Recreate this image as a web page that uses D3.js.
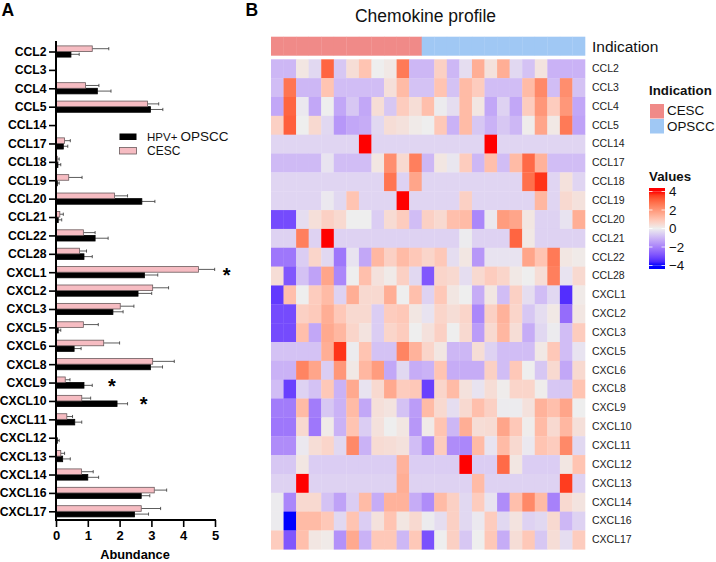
<!DOCTYPE html>
<html><head><meta charset="utf-8">
<script src="https://cdn.jsdelivr.net/npm/d3@7/dist/d3.min.js"></script>
<style>html,body{margin:0;padding:0;background:#fff}svg{display:block}text{font-family:"Liberation Sans",Arial,sans-serif}</style>
</head><body><svg id="c" width="716" height="562"></svg>
<script>
const genes=["CCL2","CCL3","CCL4","CCL5","CCL14","CCL17","CCL18","CCL19","CCL20","CCL21","CCL22","CCL28","CXCL1","CXCL2","CXCL3","CXCL5","CXCL6","CXCL8","CXCL9","CXCL10","CXCL11","CXCL12","CXCL13","CXCL14","CXCL16","CXCL17"];
const cescMean=[1.14,0,0.93,2.88,0,0.27,0.04,0.4,1.84,0.12,0.86,0.74,4.48,3.04,2.02,0.86,1.5,3.04,0.29,0.81,0.34,0,0.15,0.8,3.09,2.68];
const cescErr=[1.66,0,1.35,3.23,0,0.45,0.1,0.82,2.25,0.23,1.23,0.96,4.99,3.54,2.45,1.33,2.0,3.72,0.44,1.09,0.52,0,0.27,1.17,3.48,3.29];
const opsccMean=[0.47,0,1.3,2.97,0,0.23,0.06,0.04,2.7,0.07,1.23,0.88,2.78,2.58,1.79,0.07,0.57,2.97,0.88,1.92,0.59,0.04,0.21,1.0,2.68,2.47];
const opsccErr=[0.73,0,1.73,3.36,0,0.37,0.15,0.1,3.11,0.18,1.64,1.14,3.2,3.01,2.11,0.15,0.79,3.35,1.14,2.25,0.81,0.1,0.45,1.34,2.95,2.91];
const stars=[{gene:"CXCL1",v:5.37},{gene:"CXCL9",v:1.76},{gene:"CXCL10",v:2.76}];
const xTicks=[0,1,2,3,4,5];
const indication=["CESC","CESC","CESC","CESC","CESC","CESC","CESC","CESC","CESC","CESC","CESC","CESC","OPSCC","OPSCC","OPSCC","OPSCC","OPSCC","OPSCC","OPSCC","OPSCC","OPSCC","OPSCC","OPSCC","OPSCC","OPSCC"];
const legendTicks=[4,2,0,-2,-4];
const a=-0.45;
const heat=[
[-1,-1,0.2,-0.4,3,-0.7,0.4,1,0,0.15,2.6,-1,-1,0.7,-1,-0.3,1.5,0.3,1.5,-0.4,-0.8,0.25,-1.1,-1.1,-1.1],
[-0.9,2.7,-1,-1,1,-0.9,-0.9,-0.9,-0.9,0.35,1.2,-0.8,-0.8,1,-0.8,1.2,0.8,-0.9,-0.9,-0.9,1.2,2.3,-0.9,2.2,-0.8],
[-1.3,3,-0.1,-1.3,0,-1.3,-0.7,-1.3,0.4,-0.7,0.8,0.4,1.1,-0.05,-0.3,1.2,0.2,-1.3,-0.5,-1.3,0.8,2,0.8,2,-1.3],
[0.7,3.1,0,0.5,-0.4,-1.6,-1.3,-1.2,-0.4,0.4,0.3,0.1,0,0.9,-1.1,1.2,-0.7,-1.1,-0.7,-1,0.05,1.7,0.15,2.6,-1.4],
[a,a,a,a,a,a,a,4,a,a,a,a,a,a,a,a,a,4,a,a,a,a,a,a,a],
[-0.95,-0.95,-0.95,-0.95,-0.2,-0.9,-0.9,-0.9,0.2,2.2,0.5,2.5,-1,0.2,-0.15,0.8,-1,1.1,-0.9,1.2,2.9,1.4,-0.9,-0.9,-0.9],
[a,a,a,a,a,a,a,a,a,2.7,-0.5,1.7,a,a,a,a,a,a,a,a,2.8,3.7,a,0.3,a],
[a,a,a,a,-0.1,-0.4,1,a,a,a,4,a,a,a,a,0.7,a,a,a,a,a,1.3,a,0.5,0.3],
[-3,-3,-0.3,0.35,0.7,0.5,0,0,-0.6,0.45,0.8,-0.9,0.7,0.5,1.1,1.2,-1.9,-0.1,1.9,1.7,0.2,-0.5,-0.5,-0.2,1.5],
[-0.5,-0.5,2.5,-0.5,4,-0.5,-0.5,-0.5,-0.5,-0.5,-0.5,-0.5,-0.5,-0.5,-0.5,-0.05,-0.5,-0.5,-0.5,3,0.15,-0.5,-0.5,-0.5,-0.5],
[-2.2,-2.2,-0.6,0.6,-0.4,-2.2,-0.2,-1.3,1.3,0.7,1.2,0.9,0.6,0.9,-0.3,0.2,-1.6,-0.2,-0.2,-0.2,1.7,1,2.6,0.2,0.1],
[0.4,-2.8,-0.8,-1.4,1.7,-1.9,0,1.1,0.3,0.1,0.7,-0.4,-2.8,0.6,0.5,-0.3,0.5,0.8,0.6,0.15,0,0.4,2.5,-0.2,0.5],
[-3.3,1.1,0,0.8,1.2,-0.5,1.5,0.5,0.5,1.5,0,1.1,-0.5,0.9,0.2,0,-1.2,0.2,-0.9,0.7,-0.3,-0.9,-0.4,-3.5,0.1],
[-3,-3,0.7,0.85,1.5,0.9,0.5,0.5,-0.6,0.8,0.9,0.2,-0.2,0.6,0.4,0.6,-1.9,0.7,1.4,0.6,-0.7,-0.3,0.15,-2.4,0.2],
[-3,-3,1.1,-1.3,1.6,1.3,0.6,0.25,-0.6,0.6,0.8,0,0.3,0.7,0,0.5,-1.5,0.5,1.3,0.4,-1.2,-0.4,-0.05,-0.9,0.8],
[-0.8,-0.8,-0.8,-0.8,1.5,3.7,-0.05,1,-0.8,-0.8,2.4,1.4,0.6,0.2,-1,-1,0.4,-0.5,-0.9,-0.9,-0.9,0.15,0.9,-0.9,-0.2],
[-1.1,-1.1,2.4,1.7,-0.6,2,0.15,1.3,1.9,-1.3,-0.4,-1.2,-1.1,1,-1.2,-1.2,-1.2,0.7,-0.9,0.9,0,-0.7,0.5,-1.3,0.5],
[-0.9,-3.2,-0.5,-0.8,0.9,-1.1,1.6,-0.2,0.5,1.6,0.8,0.9,-3.2,0.6,1.2,0.3,-0.2,0.4,0.05,0.6,0.6,0.05,-0.7,-0.7,1],
[-2.1,-2.1,1.2,-2.1,-0.7,-1.1,1.2,-1.3,0.35,0.25,-0.8,-1.5,1.2,0.5,-0.3,0.5,1.1,0.7,-0.05,-0.05,0.3,1.4,1.1,1.7,0],
[-2.2,-2.2,0.5,-2.2,0.1,-1.1,1,-0.6,0.3,0,0.2,-1.6,0.1,1,-1,1.5,0.4,0.45,1.7,0.9,0.05,1.2,0.5,1.3,0.35],
[-1.8,-1.8,-0.1,0.4,0.6,-0.4,2.3,-1.1,0.45,0.4,0.3,-0.9,-1.8,0.8,-1.8,-1.9,1.2,-0.2,1.2,0.5,-0.1,1,0.8,2.3,-0.4],
[-0.7,-0.7,0.2,-0.6,-0.6,-0.6,-0.6,-0.6,-0.6,-0.6,1.4,-0.6,-0.6,-0.6,-0.6,4,-0.6,-0.6,2.9,0.2,-0.6,-0.6,-0.6,0.2,1],
[-0.5,-0.5,4,-0.5,-0.5,-0.5,-0.5,-0.5,-0.5,-0.5,1.5,-0.5,-0.5,-0.5,-0.5,-0.5,1.2,-0.5,-0.5,-0.5,-0.5,-0.5,-0.5,3.6,-0.5],
[-0.05,-1.9,0.5,0.5,-0.8,-1.4,-0.6,1.2,-1.2,1.4,1.4,-1.2,-1.8,1.2,0.7,-0.4,0.8,-0.2,-1.8,1.1,2.3,1.2,-2,0.5,0.25],
[-0.05,-4,1.2,1.2,0.9,-0.4,1,-0.6,0.3,1,0.2,0.5,-0.05,-0.3,0.7,-0.4,-0.1,0.8,-0.4,0.25,-0.5,-0.4,0.5,-1,-0.5],
[0.8,-2.8,1.1,0.2,0.1,-1.7,1.6,-1.1,0.9,0.9,-1,0.9,-2.9,0,0.7,-0.7,0,0.9,-1.2,0.4,0.9,-0.7,0.4,-0.3,0.8]
];
const svg=d3.select("#c");
const FONT_BOLD="700";

// Panel letters and titles
svg.append("text").attr("x",1.5).attr("y",15.5).attr("font-size",17.5).attr("font-weight",FONT_BOLD).text("A");
svg.append("text").attr("x",245.5).attr("y",15.5).attr("font-size",17.5).attr("font-weight",FONT_BOLD).text("B");
svg.append("text").attr("x",425.5).attr("y",22).attr("text-anchor","middle").attr("font-size",17.5).attr("fill","#111").text("Chemokine profile");

// Panel A
const x=d3.scaleLinear().domain([0,5]).range([56,215]);
const y=d3.scalePoint().domain(genes).range([51.5,511.3]);
const barH=5.6;
const gA=svg.append("g");
const drawBars=(mean,err,fill,stroke,off)=>{
  const g=gA.append("g");
  g.selectAll("line.e").data(genes).join("line")
    .attr("x1",(d,i)=>x(mean[i])).attr("x2",(d,i)=>x(err[i]))
    .attr("y1",d=>y(d)+off+barH/2).attr("y2",d=>y(d)+off+barH/2)
    .attr("stroke","#333").attr("stroke-width",0.8);
  g.selectAll("line.c").data(genes).join("line")
    .attr("x1",(d,i)=>x(err[i])).attr("x2",(d,i)=>x(err[i]))
    .attr("y1",d=>y(d)+off+barH/2-1.6).attr("y2",d=>y(d)+off+barH/2+1.6)
    .attr("stroke","#333").attr("stroke-width",0.8);
  g.selectAll("rect").data(genes).join("rect")
    .attr("x",x(0)).attr("width",(d,i)=>x(mean[i])-x(0))
    .attr("y",d=>y(d)+off).attr("height",barH)
    .attr("fill",fill).attr("stroke",stroke).attr("stroke-width",0.8);
};
drawBars(opsccMean,opsccErr,"#000","#000",0);
drawBars(cescMean,cescErr,"#F6BCC2","#6a5a5c",-barH);

const yAxis=d3.axisLeft(y).tickSize(7).tickPadding(2.5);
const gy=gA.append("g").attr("transform","translate(56,0)").call(yAxis);
gy.select(".domain").attr("d","M0,41V521").attr("stroke","#000").attr("stroke-width",2);
gy.selectAll(".tick line").attr("stroke","#000").attr("stroke-width",1.6);
gy.selectAll("text").attr("font-size",12.2).attr("font-weight",FONT_BOLD).attr("fill","#000").attr("font-family",'"Liberation Sans",Arial,sans-serif');
const xAxis=d3.axisBottom(x).tickValues(xTicks).tickFormat(d3.format("d")).tickSize(7).tickPadding(3.5);
const gx=gA.append("g").attr("transform","translate(0,520)").call(xAxis);
gx.select(".domain").attr("d","M55,0H216").attr("stroke","#000").attr("stroke-width",2);
gx.selectAll(".tick line").attr("stroke","#000").attr("stroke-width",1.6);
gx.selectAll("text").attr("font-size",13).attr("font-weight",FONT_BOLD).attr("fill","#000").attr("font-family",'"Liberation Sans",Arial,sans-serif');
svg.append("text").attr("x",135).attr("y",558.5).attr("text-anchor","middle").attr("font-size",12.8).attr("font-weight",FONT_BOLD).text("Abundance");
gA.selectAll("text.star").data(stars).join("text").attr("class","star")
  .attr("x",d=>x(d.v)).attr("y",d=>y(d.gene)+10).attr("text-anchor","middle")
  .attr("font-size",20).attr("font-weight",FONT_BOLD).text("*");

// Panel A legend
gA.append("rect").attr("x",119.5).attr("y",133.5).attr("width",17).attr("height",6.5).attr("fill","#000");
gA.append("rect").attr("x",119.5).attr("y",147.5).attr("width",17).attr("height",6.5).attr("fill","#F6BCC2").attr("stroke","#6a5a5c").attr("stroke-width",0.8);
const lt=gA.append("text").attr("x",147).attr("y",141).attr("font-size",11.5).attr("fill","#111");
lt.append("tspan").text("HPV+ ");
lt.append("tspan").attr("font-size",13.5).text("OPSCC");
gA.append("text").attr("x",147).attr("y",155).attr("font-size",12).attr("fill","#111").text("CESC");

// Panel B
const colIdx=d3.range(indication.length);
const hx=d3.scaleBand().domain(colIdx).range([271,585]);
const hy=d3.scaleBand().domain(genes).range([59.3,549.3]);
const color=d3.scaleLinear().domain([-4,0,4]).range(["#0000ff","#eeeeee","#ff0000"]).interpolate(d3.interpolateLab);
const indColor=d3.scaleOrdinal().domain(["CESC","OPSCC"]).range(["#F08A88","#A0C8F4"]);
svg.append("g").selectAll("rect").data(indication).join("rect")
  .attr("x",(d,i)=>hx(i)).attr("width",hx.bandwidth()+0.3).attr("y",36.7).attr("height",19)
  .attr("fill",d=>indColor(d));
svg.append("text").attr("x",592).attr("y",51.5).attr("font-size",15.5).attr("fill","#111").text("Indication");
const rows=svg.append("g").selectAll("g").data(heat).join("g").attr("transform",(d,i)=>`translate(0,${hy(genes[i])})`);
rows.selectAll("rect").data(d=>d).join("rect")
  .attr("x",(d,i)=>hx(i)).attr("width",hx.bandwidth()+0.3).attr("height",hy.bandwidth()+0.3)
  .attr("fill",d=>color(d));
const rl=d3.axisRight(hy).tickSize(0).tickPadding(7);
const grl=svg.append("g").attr("transform","translate(585,0)").call(rl);
grl.select(".domain").remove();
grl.selectAll("text").attr("font-size",10.5).attr("fill","#222").attr("font-family",'"Liberation Sans",Arial,sans-serif');

// Heatmap legends
svg.append("text").attr("x",649).attr("y",95).attr("font-size",13.3).attr("font-weight",FONT_BOLD).attr("fill","#111").text("Indication");
const lg=svg.append("g").selectAll("g").data(indColor.domain()).join("g");
lg.append("rect").attr("x",650).attr("y",(d,i)=>104+i*15).attr("width",14).attr("height",14.5).attr("fill",d=>indColor(d));
lg.append("text").attr("x",667).attr("y",(d,i)=>115+i*15.5).attr("font-size",13.4).attr("fill","#111").text(d=>d);
svg.append("text").attr("x",649).attr("y",181).attr("font-size",13.3).attr("font-weight",FONT_BOLD).attr("fill","#111").text("Values");
const ls=d3.scaleLinear().domain([4,-4]).range([191.5,265.5]);
const defs=svg.append("defs");
const gr=defs.append("linearGradient").attr("id","vg").attr("x1",0).attr("x2",0).attr("y1",0).attr("y2",1);
d3.range(0,1.0001,0.05).forEach(t=>gr.append("stop").attr("offset",t).attr("stop-color",color(4-8*t)));
svg.append("rect").attr("x",649).attr("y",188).attr("width",16).attr("height",3.5).attr("fill",color(4));
svg.append("rect").attr("x",649).attr("y",265.5).attr("width",16).attr("height",3.5).attr("fill",color(-4));
svg.append("rect").attr("x",649).attr("y",ls(4)).attr("width",16).attr("height",ls(-4)-ls(4)).attr("fill","url(#vg)");
const ax=d3.axisRight(ls).tickValues(legendTicks).tickFormat(d=>d<0?"\u2212"+(-d):d).tickSize(0).tickPadding(20);
const gl=svg.append("g").attr("transform","translate(649,0)").call(ax);
gl.select(".domain").remove();
gl.selectAll("text").attr("font-size",13.4).attr("fill","#111").attr("font-family",'"Liberation Sans",Arial,sans-serif');
svg.append("g").selectAll("path").data(legendTicks).join("path")
  .attr("d",d=>`M649,${ls(d)}h3.5M661.5,${ls(d)}h3.5`).attr("stroke","#fff").attr("stroke-width",0.8);
</script></body></html>
